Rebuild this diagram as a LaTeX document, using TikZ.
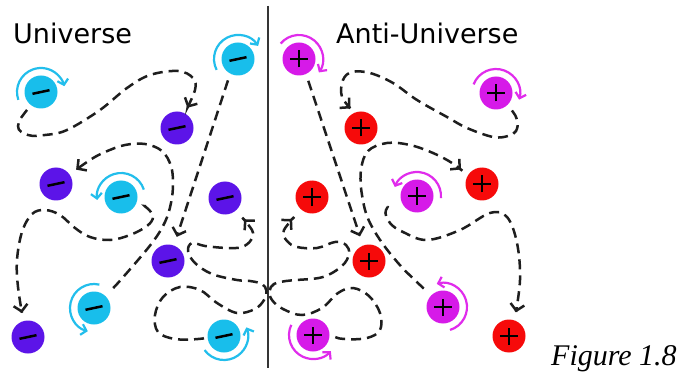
\documentclass[tikz,border=0pt]{standalone}
\usepackage{fontspec}
\newfontfamily\labfont{DejaVu Sans}
\newfontfamily\figfont{Liberation Serif}
\usetikzlibrary{arrows.meta}
\definecolor{cyanP}{RGB}{24,190,235}
\definecolor{purpP}{RGB}{92,20,232}
\definecolor{magP}{RGB}{214,26,232}
\definecolor{redP}{RGB}{246,10,10}
\definecolor{cyanA}{RGB}{34,190,236}
\definecolor{magA}{RGB}{224,44,236}
\definecolor{inkD}{RGB}{30,30,30}
\newcommand{\spinarc}[4]{\draw[spin,#4] ([shift={(#2:24)}]#1.center) arc[start angle=#2, end angle=#3, radius=24];}
\begin{document}
\begin{tikzpicture}[x=1pt,y=1pt,
  particle/.style={circle, minimum size=33pt, inner sep=0pt},
  negsign/.style={path picture={\draw[line width=2.5pt, black] ([shift={(-8.5pt,-1.8pt)}]path picture bounding box.center) -- ([shift={(8.5pt,1.8pt)}]path picture bounding box.center);}},
  possign/.style={path picture={\draw[line width=1.6pt, black] ([shift={(-9pt,0pt)}]path picture bounding box.center) -- ([shift={(9pt,0pt)}]path picture bounding box.center) ([shift={(0pt,-8.5pt)}]path picture bounding box.center) -- ([shift={(0pt,8.5pt)}]path picture bounding box.center);}},
  cyanpart/.style={particle, fill=cyanP, negsign},
  purppart/.style={particle, fill=purpP, negsign},
  magpart/.style={particle, fill=magP, possign},
  redpart/.style={particle, fill=redP, possign},
  spin/.style={line width=2.2pt, -{Straight Barb[length=5pt,width=11pt,line width=2.2pt]}},
  conn/.style={draw=inkD, line width=2.5pt, dash pattern=on 10pt off 6pt, -{Straight Barb[length=6.5pt,width=14pt,line width=2.5pt]}},
  divider/.style={draw=inkD!90, line width=2pt},
  title/.style={anchor=base west, inner sep=0pt, text=black, font=\labfont\fontsize{27}{32}\selectfont}
]
\useasboundingbox (0,0) rectangle (684,-379);
\fill[white] (0,0) rectangle (684,-379);

% divider
\coordinate (top) at (268,-6);
\coordinate (bot) at (268,-368);
\draw[divider] (top) -- (bot);

% titles
\node[title] (tu) at (13,-44) {Universe};
\node[title] (ta) at (336,-44) {Anti-Universe};
\node[anchor=base west, inner sep=0pt, font=\figfont\itshape\fontsize{30}{34}\selectfont] (fig) at (551,-365) {Figure 1.8};

% universe particles
\node[cyanpart] (c1) at (238,-59) {};
\node[cyanpart] (c2) at (41,-92) {};
\node[purppart] (p1) at (177,-128) {};
\node[purppart] (p2) at (56,-184) {};
\node[cyanpart] (c3) at (121,-197) {};
\node[purppart] (p3) at (225,-198) {};
\node[purppart] (p4) at (168,-261) {};
\node[cyanpart] (c4) at (94,-308) {};
\node[purppart] (p5) at (28,-337) {};
\node[cyanpart] (c5) at (224,-336) {};

% anti-universe particles
\node[magpart] (m1) at (299,-59) {};
\node[magpart] (m2) at (496,-93) {};
\node[redpart] (r1) at (361,-128) {};
\node[redpart] (r2) at (312,-197) {};
\node[magpart] (m3) at (417,-196) {};
\node[redpart] (r3) at (482,-184) {};
\node[redpart] (r4) at (369,-261) {};
\node[magpart] (m4) at (443,-307) {};
\node[magpart] (m5) at (313,-335) {};
\node[redpart] (r5) at (509,-336) {};

% spin arcs
\spinarc{c1}{207}{33}{cyanA}
\spinarc{c2}{199}{14}{cyanA}
\spinarc{c3}{18}{187}{cyanA}
\spinarc{c4}{77}{255}{cyanA}
\spinarc{c5}{216}{381}{cyanA}
\spinarc{m1}{140}{-34}{magA}
\spinarc{m2}{159}{-16}{magA}
\spinarc{m3}{-5}{158}{magA}
\spinarc{m4}{-73}{105}{magA}
\spinarc{m5}{155}{318}{magA}

% universe connectors
\draw[conn, shorten <=6pt, shorten >=6pt] plot[smooth, tension=0.6] coordinates {(c2.232) (18,-126) (28,-135) (45,-135) (67,-130) (100,-110) (127,-88) (150,-75) (178,-71) (193,-78) (195,-90) (p1.63)};
\draw[conn, shorten <=7pt, shorten >=9pt] (c1.242) -- (p4.69);
\draw[conn, shorten <=11pt, shorten >=8pt] plot[smooth, tension=0.6] coordinates {(c4.46) (125,-275) (152,-243) (165,-222) (171,-203) (173,-184) (171,-166) (162,-151) (145,-144) (125,-145) (105,-152) (90,-160) (p2.35)};
\draw[conn, shorten <=10pt, shorten >=8pt] plot[smooth, tension=0.6] coordinates {(c3.-23) (147,-208) (153,-217) (147,-226) (130,-235) (110,-240) (90,-237) (75,-228) (60,-215) (45,-210) (32,-214) (22,-232) (17,-260) (18,-287) (p5.106)};
\draw[conn, shorten <=4pt, shorten >=12pt] plot[smooth, tension=0.6] coordinates {(c5.180) (198,-339) (175,-339) (158,-332) (155,-315) (163,-297) (180,-287) (200,-290) (217,-303) (237,-313) (255,-309) (264,-300) (266.5,-291) (262,-284) (250,-281) (237,-280) (212,-274) (195,-263) (188,-251) (192,-243) (205,-246) (227,-248) (242,-247) (251,-240) (252,-230) (p3.-50)};

% anti-universe connectors
\draw[conn, shorten <=7pt, shorten >=6pt] plot[smooth, tension=0.6] coordinates {(m2.-45) (517,-120) (516,-131) (508,-136) (493,-137) (467,-128) (447,-117) (417,-100) (393,-83) (370,-73) (352,-72) (343,-80) (342,-97) (r1.112)};
\draw[conn, shorten <=7pt, shorten >=9.5pt] (m1.-65) -- (r4.111);
\draw[conn, shorten <=10pt, shorten >=9pt] plot[smooth, tension=0.6] coordinates {(m4.136) (393,-257) (370,-223) (362,-195) (361,-170) (368,-151) (387,-143) (410,-145) (433,-153) (452,-163) (r3.149)};
\draw[conn, shorten <=15pt, shorten >=8pt] plot[smooth, tension=0.6] coordinates {(m3.200) (386,-210) (390,-223) (403,-232) (427,-240) (460,-230) (490,-213) (507,-217) (517,-243) (520,-280) (r5.71)};
\draw[conn, shorten <=6pt, shorten >=13pt] plot[smooth, tension=0.6] coordinates {(m5.0) (345,-339) (367,-338) (380,-330) (380,-313) (369,-296) (353,-288) (338,-293) (322,-308) (302,-315) (283,-309) (272,-300) (269.5,-291) (274,-284) (286,-281) (297,-280) (323,-277) (342,-266) (349,-254) (346,-245) (335,-242) (317,-248) (297,-247) (287,-241) (284,-230) (r2.230)};
\end{tikzpicture}
\end{document}
